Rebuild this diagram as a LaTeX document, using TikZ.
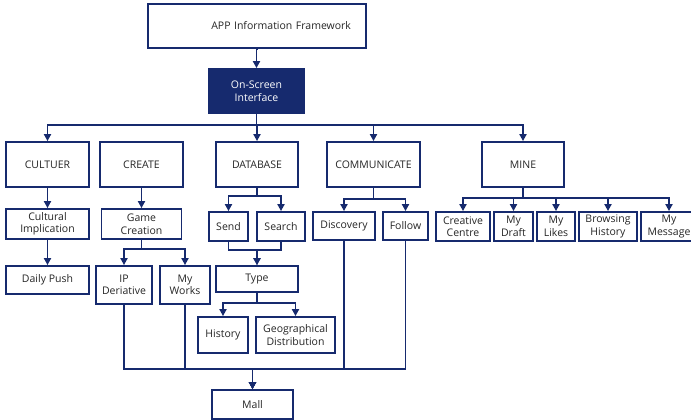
\documentclass[tikz,border=0pt]{standalone}
\usepackage{fontspec}
\setmainfont{Open Sans}
\usetikzlibrary{arrows.meta}
\definecolor{navy}{RGB}{22,42,110}

\begin{document}
\begin{tikzpicture}[x=1pt, y=-1pt]
    % ================= 样式定义 =================
    \tikzset{
        % 白底深蓝边方框
        box/.style={draw=navy, line width=1.8pt, fill=white, inner sep=1pt, align=center,
            font=\fontsize{10.5}{12.5}\selectfont, text=black!85},
        % 深蓝底白字方框
        dark_box/.style={box, fill=navy, text=white},
        % 连线与箭头
        link/.style={draw=navy, line width=1.8pt},
        arr/.style={link, -{Triangle[length=7pt,width=7pt]}}
    }
    \clip (0,0) rectangle (691,420);

    % ================= 顶部 =================
    \node[box, minimum width=218, minimum height=44, text width=188, align=right, inner xsep=15] (app) at (257,26) {APP Information Framework};
    \node[dark_box, minimum width=95, minimum height=44] (osi) at (256.5,91) {On-Screen\\Interface};
    \draw[arr] (app.south) -- (osi.south |- app.south) -- (osi.north);

    % ================= 第一层 =================
    \node[box, minimum width=83, minimum height=45] (cultuer) at (47.5,164.5) {CULTUER};
    \node[box, minimum width=83, minimum height=45] (create) at (141.5,164.5) {CREATE};
    \node[box, minimum width=82, minimum height=45] (database) at (257,164.5) {DATABASE};
    \node[box, minimum width=93, minimum height=45] (communicate) at (373.5,164.5) {COMMUNICATE};
    \node[box, minimum width=82, minimum height=45] (mine) at (523,164.5) {MINE};

    \foreach \n in {cultuer, database, communicate, mine}
        \draw[arr] (osi.south) -- ++(0,11) -| (\n.north);

    % ================= CULTUER / CREATE =================
    \node[box, minimum width=83, minimum height=30] (cult_imp) at (47.5,224) {Cultural\\Implication};
    \node[box, minimum width=83, minimum height=28] (daily) at (47.5,280) {Daily Push};
    \draw[arr] (cultuer.south) -- (cult_imp.north);
    \draw[arr] (cult_imp.south) -- (daily.north);

    \node[box, minimum width=80, minimum height=30] (game) at (141.5,224) {Game\\Creation};
    \node[box, minimum width=56, minimum height=38] (ip) at (124,285) {IP\\Deriative};
    \node[box, minimum width=50, minimum height=38] (works) at (185,285) {My\\Works};
    \draw[arr] (create.south) -- (game.north);
    \foreach \n in {ip, works}
        \draw[arr] (game.south) -- ++(0,9) -| (\n.north);

    % ================= DATABASE =================
    \node[box, minimum width=39, minimum height=29] (send) at (228.5,226.5) {Send};
    \node[box, minimum width=48, minimum height=29] (search) at (281,226.5) {Search};
    \node[box, minimum width=82, minimum height=26] (type) at (257,279) {Type};
    \node[box, minimum width=50, minimum height=36] (history) at (223,335) {History};
    \node[box, minimum width=79, minimum height=36] (geo) at (295.5,335) {Geographical\\Distribution};
    \foreach \n in {send, search}
        \draw[arr] (database.south) -- ++(0,8) -| (\n.north);
    \foreach \n in {send, search}
        \draw[arr] (\n.south) -- ++(0,8) -| (type.north);
    \foreach \n in {history, geo}
        \draw[arr] (type.south) -- ++(0,10) -| (\n.north);

    % ================= COMMUNICATE =================
    \node[box, minimum width=62, minimum height=28] (discovery) at (344,226) {Discovery};
    \node[box, minimum width=45, minimum height=28] (follow) at (405.5,226) {Follow};
    \foreach \n in {discovery, follow}
        \draw[arr] (communicate.south) -- ++(0,11) -| (\n.north);

    % ================= MINE =================
    \node[box, minimum width=54, minimum height=29] (creative) at (463,226.5) {Creative\\Centre};
    \node[box, minimum width=39, minimum height=29] (draft) at (513.5,226.5) {My\\Draft};
    \node[box, minimum width=38, minimum height=29] (likes) at (556,226.5) {My\\Likes};
    \node[box, minimum width=58, minimum height=29] (browsing) at (608,226.5) {Browsing\\History};
    \node[box, minimum width=56, minimum height=29] (message) at (669,226.5) {My\\Message};
    \foreach \n in {creative, draft, likes, browsing, message}
        \draw[arr] (mine.south) -- ++(0,10) -| (\n.north);

    % ================= Mall =================
    \node[box, minimum width=81, minimum height=29] (mall) at (252.5,404.5) {Mall};
    \foreach \n in {ip, works}
        \draw[arr] (\n.south) -- ++(0,64) -| (mall.north);
    \foreach \n in {discovery, follow}
        \draw[arr] (\n.south) -- ++(0,128) -| (mall.north);

\end{tikzpicture}
\end{document}
